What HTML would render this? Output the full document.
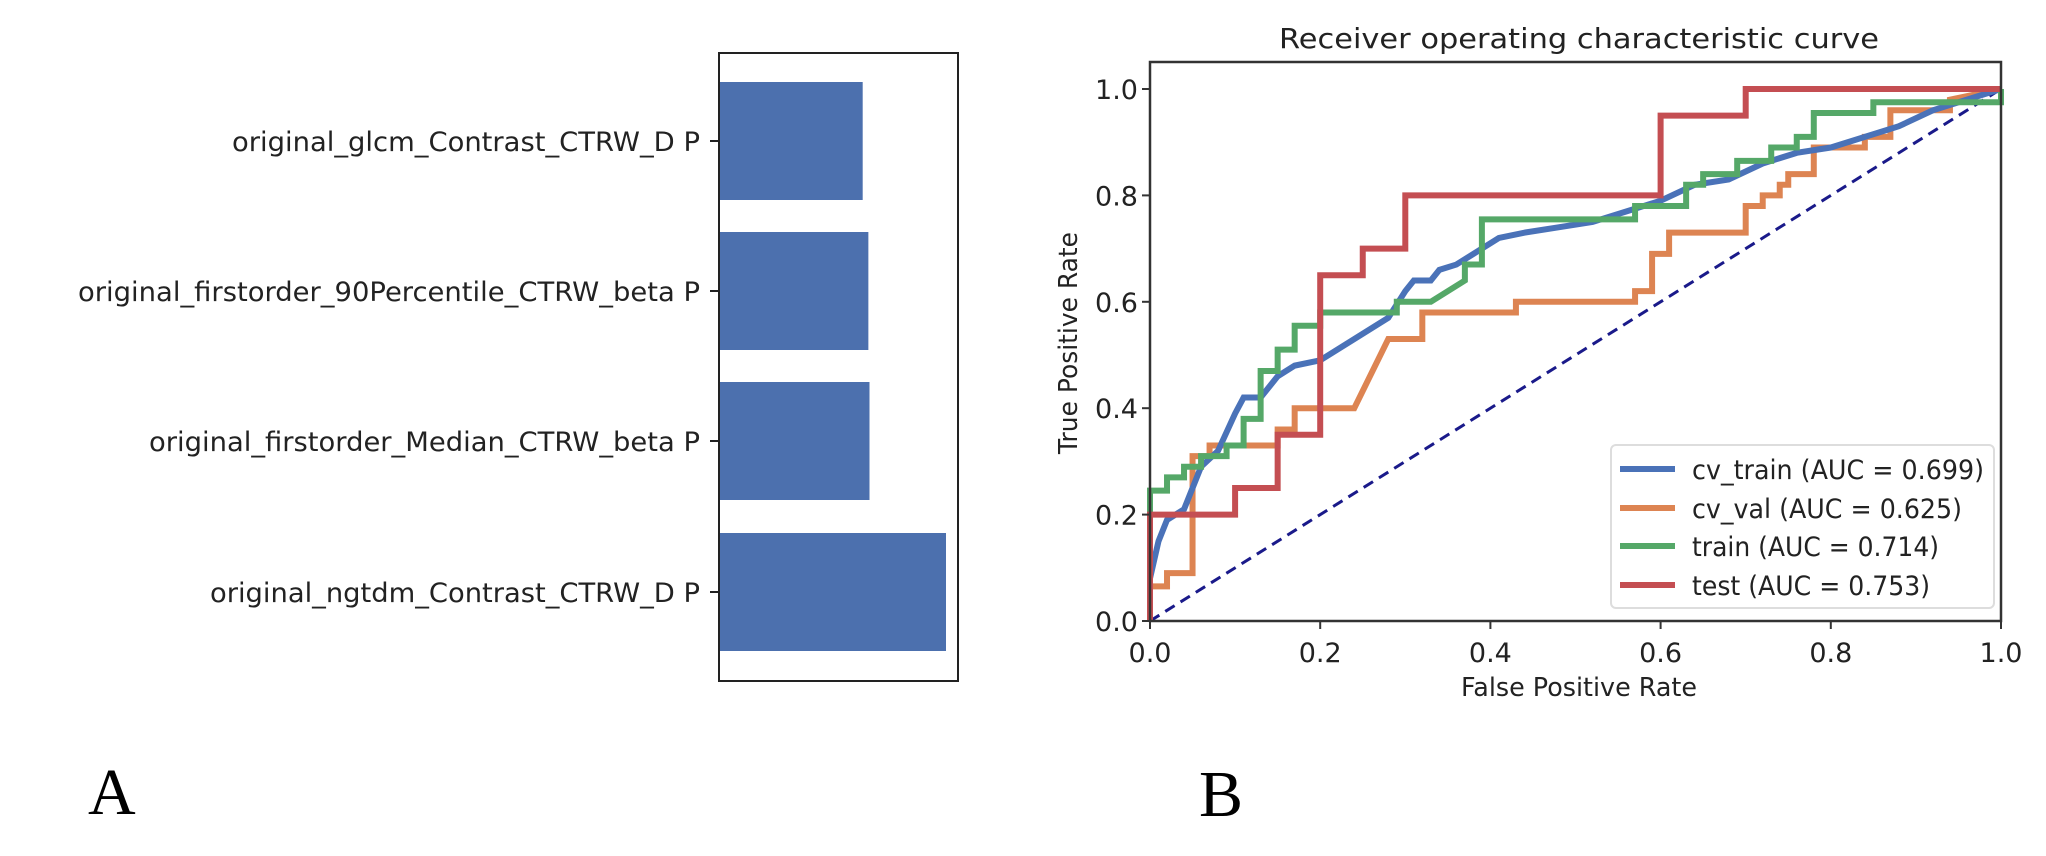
<!DOCTYPE html>
<html><head><meta charset="utf-8"><style>
html,body{margin:0;padding:0;background:#fff;}
svg{display:block;font-family:"DejaVu Sans","Liberation Sans",sans-serif;}
</style></head><body>
<svg id="fig" width="2046" height="856" viewBox="0 0 2046 856">
<g id="panelA"></g>
<g id="panelB"></g>
<text x="88" y="814" font-family="Liberation Serif, serif" font-size="66" fill="#000">A</text>
<text x="1199" y="816" font-family="Liberation Serif, serif" font-size="66" fill="#000">B</text>
</svg>
<script>
// ---- Panel A data ----
const featureNames = ["original_glcm_Contrast_CTRW_D P","original_firstorder_90Percentile_CTRW_beta P","original_firstorder_Median_CTRW_beta P","original_ngtdm_Contrast_CTRW_D P"];
const featureValues = [0.633, 0.658, 0.663, 1.0];
const labelWidths = [468, 622, 551, 490];

// ---- Panel B data ----
const rocTestX = [0,0,0.1,0.1,0.15,0.15,0.2,0.2,0.25,0.25,0.3,0.3,0.6,0.6,0.7,0.7,1];
const rocTestY = [0,0.2,0.2,0.25,0.25,0.35,0.35,0.65,0.65,0.7,0.7,0.8,0.8,0.95,0.95,1,1];
const rocValX = [0,0,0.02,0.02,0.05,0.05,0.07,0.07,0.15,0.15,0.17,0.17,0.24,0.28,0.32,0.32,0.43,0.43,0.57,0.57,0.59,0.59,0.61,0.61,0.7,0.7,0.72,0.72,0.74,0.74,0.75,0.75,0.78,0.78,0.84,0.84,0.87,0.87,0.94,0.94,1];
const rocValY = [0,0.065,0.065,0.09,0.09,0.31,0.31,0.33,0.33,0.36,0.36,0.40,0.40,0.53,0.53,0.58,0.58,0.60,0.60,0.62,0.62,0.69,0.69,0.73,0.73,0.78,0.78,0.80,0.80,0.82,0.82,0.84,0.84,0.89,0.89,0.91,0.91,0.96,0.96,0.98,1];
const rocTrainX = [0,0,0.02,0.02,0.04,0.04,0.06,0.06,0.09,0.09,0.11,0.11,0.13,0.13,0.15,0.15,0.17,0.17,0.2,0.2,0.29,0.29,0.33,0.37,0.37,0.39,0.39,0.57,0.57,0.63,0.63,0.65,0.65,0.69,0.69,0.73,0.73,0.76,0.76,0.78,0.78,0.85,0.85,1,1];
const rocTrainY = [0,0.245,0.245,0.27,0.27,0.29,0.29,0.31,0.31,0.33,0.33,0.38,0.38,0.47,0.47,0.51,0.51,0.555,0.555,0.58,0.58,0.60,0.60,0.64,0.67,0.67,0.755,0.755,0.78,0.78,0.82,0.82,0.84,0.84,0.865,0.865,0.89,0.89,0.91,0.91,0.955,0.955,0.975,0.975,1];
const rocCvTrainX = [0,0,0.01,0.02,0.04,0.05,0.06,0.08,0.1,0.11,0.13,0.15,0.17,0.2,0.24,0.28,0.3,0.31,0.33,0.34,0.36,0.38,0.41,0.44,0.48,0.52,0.56,0.6,0.64,0.68,0.72,0.76,0.8,0.84,0.88,0.92,0.96,1];
const rocCvTrainY = [0,0.08,0.15,0.19,0.21,0.25,0.29,0.32,0.39,0.42,0.42,0.46,0.48,0.49,0.53,0.57,0.62,0.64,0.64,0.66,0.67,0.69,0.72,0.73,0.74,0.75,0.77,0.79,0.82,0.83,0.86,0.88,0.89,0.91,0.93,0.96,0.98,1];
const seriesNames = ["cv_train (AUC = 0.699)","cv_val (AUC = 0.625)","train (AUC = 0.714)","test (AUC = 0.753)"];
const xTicks = [0,0.2,0.4,0.6,0.8,1.0];
const yTicks = [0,0.2,0.4,0.6,0.8,1.0];
const tickLabels = ["0.0","0.2","0.4","0.6","0.8","1.0"];

const NS="http://www.w3.org/2000/svg";
function mk(tag, attrs, parent){const e=document.createElementNS(NS,tag);for(const k in attrs)e.setAttribute(k,attrs[k]);parent.appendChild(e);return e;}

// ---- Panel A ----
const A=document.getElementById('panelA');
const boxL=719, boxR=958, boxT=53, boxB=681;
const barX=v=>boxL+v*(946-boxL);
const barCenters=[141,291,441,592], barH=118;
featureNames.forEach((n,i)=>{
  const r=mk('rect',{x:boxL,y:barCenters[i]-barH/2,width:barX(featureValues[i])-boxL,height:barH,fill:'#4c70ae'},A);
  
  
  const t=mk('line',{x1:710,x2:719,y1:barCenters[i],y2:barCenters[i],stroke:'#222','stroke-width':2},A);
  
  
  const tx=mk('text',{x:700,y:barCenters[i]+10,'text-anchor':'end','font-size':27,fill:'#222',textLength:labelWidths[i],lengthAdjust:'spacingAndGlyphs'},A);
  tx.textContent=n;
  
  
});
const fr=mk('rect',{x:boxL,y:boxT,width:boxR-boxL,height:boxB-boxT,fill:'none',stroke:'#222','stroke-width':2},A);



// ---- Panel B ----
const B=document.getElementById('panelB');
const X0=1150,X1=2001,Y0=621,Y1=89;
const sx=v=>X0+v*(X1-X0), sy=v=>Y0-v*(Y0-Y1);
const dg=mk('line',{x1:sx(0),y1:sy(0),x2:sx(1),y2:sy(1),stroke:'#1a1a8a','stroke-width':3,'stroke-dasharray':'11,7'},B);


const series=[[rocCvTrainX,rocCvTrainY,'#4a72b8','cv-train-curve'],[rocValX,rocValY,'#dd8452','cv-val-curve'],[rocTrainX,rocTrainY,'#55a868','train-curve'],[rocTestX,rocTestY,'#c44e52','test-curve']];
const order=[1,0,2,3];
order.forEach(i=>{
  const [xs,ys,c,name]=series[i];
  const p=mk('polyline',{points:xs.map((x,j)=>sx(x)+','+sy(ys[j])).join(' '),fill:'none',stroke:c,'stroke-width':6,'stroke-linejoin':'miter'},B);
  
  
});
const ax=mk('rect',{x:X0,y:62,width:X1-X0,height:Y0-62,fill:'none',stroke:'#333','stroke-width':2.5},B);


xTicks.forEach((v,i)=>{
  const l=mk('line',{x1:sx(v),x2:sx(v),y1:Y0,y2:Y0+8,stroke:'#333','stroke-width':2},B);
  
  
  const t=mk('text',{x:sx(v),y:Y0+41,'text-anchor':'middle','font-size':27,fill:'#222'},B);
  t.textContent=tickLabels[i];
  
  
});
yTicks.forEach((v,i)=>{
  const l=mk('line',{x1:X0-8,x2:X0,y1:sy(v),y2:sy(v),stroke:'#333','stroke-width':2},B);
  
  
  const t=mk('text',{x:X0-12,y:sy(v)+10,'text-anchor':'end','font-size':27,fill:'#222'},B);
  t.textContent=tickLabels[i];
  
  
});
const ti=mk('text',{x:1579,y:48,'text-anchor':'middle','font-size':28,fill:'#222',textLength:600,lengthAdjust:'spacingAndGlyphs'},B);
ti.textContent='Receiver operating characteristic curve';


const xl=mk('text',{x:1579,y:696,'text-anchor':'middle','font-size':26,fill:'#222',textLength:236,lengthAdjust:'spacingAndGlyphs'},B);
xl.textContent='False Positive Rate';


const yl=mk('text',{x:0,y:0,'text-anchor':'middle','font-size':26,fill:'#222',textLength:222,lengthAdjust:'spacingAndGlyphs',transform:'translate(1077,343) rotate(-90)'},B);
yl.textContent='True Positive Rate';


// legend
const lg=mk('rect',{x:1611,y:445,width:383,height:163,rx:5,fill:'#fff','fill-opacity':0.85,stroke:'#ddd','stroke-width':2},B);


const legY=[469,508,546,585];
const legW=[292,270,247,238];
[0,1,2,3].forEach(i=>{
  const l=mk('line',{x1:1620,x2:1675,y1:legY[i],y2:legY[i],stroke:series[i][2],'stroke-width':6},B);
  
  
  const t=mk('text',{x:1692,y:legY[i]+10,'font-size':27,fill:'#222',textLength:legW[i],lengthAdjust:'spacingAndGlyphs'},B);
  t.textContent=seriesNames[i];
  
  
});
</script>
</body></html>
